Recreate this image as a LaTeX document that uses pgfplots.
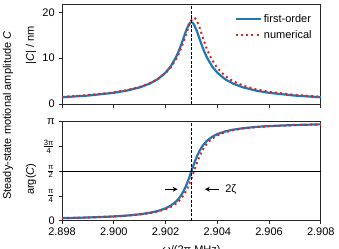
\documentclass[border=0pt]{standalone}
\usepackage{pgfplots}
\pgfplotsset{compat=1.18}
\usepackage{pgfplotstable}
\usepackage{amsmath}
\usepackage{fontspec}
\setmainfont{Liberation Sans}
\usetikzlibrary{arrows.meta}
\definecolor{tabblue}{RGB}{31,119,180}
\definecolor{tabred}{RGB}{214,39,40}

% first-order: x  |C|  arg(C)
\pgfplotstableread{
x        amp      ph
2.89800  1.475    0.08281
2.89900  1.840    0.10338
2.90000  2.443    0.13746
2.90050  2.920    0.16450
2.90100  3.623    0.20462
2.90140  4.477    0.25381
2.90170  5.423    0.30898
2.90200  6.835    0.39350
2.90220  8.211    0.47857
2.90240  10.144   0.60512
2.90250  11.388   0.69288
2.90260  12.838   0.80380
2.90270  14.451   0.94490
2.90280  16.063   1.12228
2.90290  17.337   1.33455
2.90295  17.700   1.45088
2.90300  17.831   1.57080
2.90305  17.700   1.69071
2.90310  17.337   1.80704
2.90320  16.063   2.01931
2.90330  14.451   2.19669
2.90340  12.838   2.33779
2.90350  11.388   2.44871
2.90360  10.144   2.53647
2.90380  8.211    2.66302
2.90400  6.835    2.74809
2.90430  5.423    2.83261
2.90460  4.477    2.88778
2.90500  3.623    2.93697
2.90550  2.920    2.97709
2.90600  2.443    3.00413
2.90700  1.840    3.03821
2.90800  1.475    3.05878
}\firstorder

% numerical: x  |C|  arg(C)
\pgfplotstableread{
x        amp      ph
2.89800  1.555    0.08281
2.89900  1.930    0.10287
2.90000  2.542    0.13567
2.90050  3.019    0.16134
2.90100  3.712    0.19881
2.90140  4.538    0.24385
2.90170  5.434    0.29337
2.90200  6.742    0.36686
2.90220  7.987    0.43933
2.90240  9.708    0.54284
2.90250  10.814   0.61298
2.90260  12.119   0.70071
2.90270  13.631   0.81138
2.90280  15.302   0.95131
2.90290  16.965   1.12555
2.90300  18.273   1.33455
2.90305  18.662   1.45088
2.90310  18.795   1.57080
2.90315  18.662   1.69071
2.90320  18.273   1.80704
2.90330  16.933   2.01931
2.90340  15.233   2.19669
2.90350  13.533   2.33779
2.90360  12.004   2.44871
2.90370  10.692   2.53647
2.90380  9.585    2.60674
2.90400  7.870    2.70914
2.90430  6.143    2.80845
2.90460  5.012    2.87171
2.90500  4.011    2.92654
2.90550  3.203    2.97037
2.90600  2.663    2.99945
2.90700  1.989    3.03558
2.90800  1.586    3.05710
}\numerical

\pgfplotsset{
  myax/.style={
    scale only axis, width=258.7pt,
    xmin=2.898, xmax=2.908,
    xtick={2.898,2.900,2.902,2.904,2.906,2.908},
    tick align=outside, tick pos=left,
    major tick length=3.5pt,
    axis line style={black!85, line width=0.8pt},
    tick style={black!85, line width=0.8pt},
    /pgf/number format/assume math mode=true,
    clip=true,
  },
  fo/.style={tabblue, line width=2.2pt},
  nu/.style={tabred, line width=2pt, dash pattern=on 2pt off 3.2pt},
}

\begin{document}
\fontsize{11pt}{13pt}\selectfont
\begin{tikzpicture}
% bottom: phase
\begin{axis}[myax, name=bot, at={(0pt,0pt)}, anchor=south west,
  height=99pt, ymin=0, ymax=3.14159,
  ytick={0,0.785398,1.570796,2.356194,3.14159},
  yticklabels={0,{$\frac{\text{π}}{\text{4}}$},{$\frac{\text{π}}{\text{2}}$},{$\frac{\text{3π}}{\text{4}}$},π},
  xticklabels={2.898,2.900,2.902,2.904,2.906,2.908},
  ylabel={arg(\textit{C})},
  ylabel style={at={(axis description cs:-0.12,0.42)}, anchor=center, rotate=0},
  xlabel={\textit{ω}/(2π MHz)},
  xlabel style={at={(axis description cs:0.5,0)}, anchor=base, yshift=-32.5pt, inner sep=0pt},
]
\addplot[fo] table[x=x, y=ph] {\firstorder};
\addplot[nu] table[x=x, y=ph] {\numerical};
\draw[black, line width=0.8pt] (axis cs:2.898,1.570796) -- (axis cs:2.908,1.570796);
\draw[black, line width=0.8pt, dash pattern=on 3pt off 1.5pt] (axis cs:2.903,0) -- (axis cs:2.903,3.14159);
\draw[black, line width=1.2pt, -{Stealth[length=5pt,width=5pt]}] (axis cs:2.90198,1.0) -- (axis cs:2.90247,1.0);
\draw[black, line width=1.2pt, -{Stealth[length=5pt,width=5pt]}] (axis cs:2.90407,1.0) -- (axis cs:2.90352,1.0);
\node[anchor=west, inner sep=0pt] at (axis cs:2.90430,1.0) {2ζ};
\end{axis}
% top: amplitude
\begin{axis}[myax, name=top, at={(0pt,116.7pt)}, anchor=south west,
  height=100pt, ymin=0, ymax=21.8,
  ytick={0,10,20}, yticklabels={0,10,20},
  xticklabels={},
  ylabel={|\textit{C}| / nm},
  ylabel style={at={(axis description cs:-0.12,0.59)}, anchor=center, rotate=0},
  legend style={draw=none, fill=none, at={(axis description cs:1,1)}, anchor=north east,
    xshift=-6pt, yshift=-7pt, row sep=2.5pt, inner sep=1pt,
    cells={anchor=west}},
  legend image code/.code={\draw[#1] (0pt,0pt) -- (25pt,0pt);},
]
\addplot[fo] table[x=x, y=amp] {\firstorder};
\addlegendentry{first-order}
\addplot[nu] table[x=x, y=amp] {\numerical};
\addlegendentry{numerical}
\draw[black, line width=0.8pt, dash pattern=on 3pt off 1.5pt] (axis cs:2.903,0) -- (axis cs:2.903,21.8);
\end{axis}
\node[rotate=90] at (-54pt,105.2pt) {Steady-state motional amplitude \textit{C}};
\pgfresetboundingbox
\useasboundingbox (-62pt,-27.3pt) rectangle (276.9pt,220.7pt);
\end{tikzpicture}
\end{document}
